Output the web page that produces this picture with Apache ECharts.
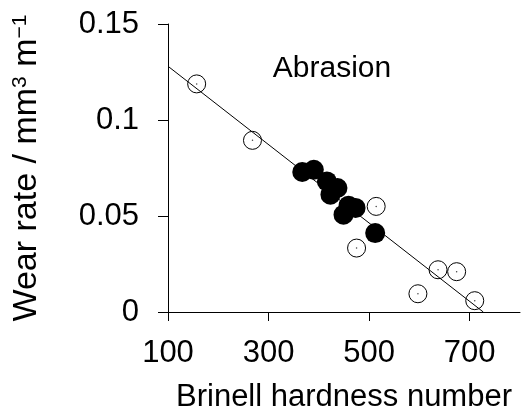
<!DOCTYPE html>
<html>
<head>
<meta charset="utf-8">
<script src="https://cdn.jsdelivr.net/npm/echarts@6/dist/echarts.min.js"></script>
<style>
  html, body { margin: 0; padding: 0; background: #fff; }
  #chart { width: 523px; height: 413px; }
</style>
</head>
<body>
<div id="chart"></div>
<script>
// open circles (other samples)
const openX = [157, 268, 514, 475, 637, 674, 597, 710];
const openY = [0.1188, 0.0894, 0.055, 0.0333, 0.022, 0.021, 0.0095, 0.0059];

// filled circles (cluster on the line)
const filledX = [367, 390, 416, 437, 423, 459, 473, 449, 512];
const filledY = [0.0729, 0.0741, 0.068, 0.0646, 0.0611, 0.0554, 0.0542, 0.0507, 0.0411];

// fitted line ends
const fitX = [100, 727];
const fitY = [0.128, 0];

const xTicks = [100, 300, 500, 700];
const yTicks = [0, 0.05, 0.1, 0.15];

const font = 'Liberation Sans';

function pairs(xs, ys) {
    return xs.map((x, i) => [x, ys[i]]);
}

const chart = echarts.init(document.getElementById('chart'));

const option = {
    animation: false,
    grid: { left: 168, right: 3, top: 24, bottom: 101, outerBoundsMode: 'none', containLabel: false },
    graphic: [
        {
            type: 'text',
            x: 332,
            y: 69,
            style: {
                text: 'Abrasion',
                font: '30px "Liberation Sans"',
                fill: '#000',
                textAlign: 'center',
                textVerticalAlign: 'middle',
            },
        },
    ],
    xAxis: {
        type: 'value',
        min: 100,
        max: 800,
        splitLine: { show: false },
        axisLine: { lineStyle: { color: '#000', width: 1 } },
        axisTick: { length: 9, customValues: xTicks, lineStyle: { color: '#000' } },
        axisLabel: {
            customValues: xTicks,
            margin: 26,
            fontFamily: font,
            fontSize: 31,
            color: '#000',
        },
        name: 'Brinell hardness number',
        nameLocation: 'middle',
        nameGap: 70,
        nameTextStyle: { fontFamily: font, fontSize: 31, color: '#000' },
    },
    yAxis: {
        type: 'value',
        min: 0,
        max: 0.15,
        splitLine: { show: false },
        axisLine: { show: true, lineStyle: { color: '#000', width: 1 } },
        axisTick: { show: true, length: 10, customValues: yTicks, lineStyle: { color: '#000' } },
        axisLabel: {
            customValues: yTicks,
            margin: 29,
            fontFamily: font,
            fontSize: 31,
            color: '#000',
        },
        name: '{n|Wear rate / mm}{s|3}{n| m}{s|\u22121}',
        nameLocation: 'middle',
        nameGap: 124,
        nameTextStyle: {
            fontFamily: font,
            color: '#000',
            rich: {
                n: { fontFamily: font, fontSize: 34, color: '#000', lineHeight: 34 },
                s: { fontFamily: font, fontSize: 21, color: '#000', verticalAlign: 'top', lineHeight: 34 },
            },
        },
    },
    series: [
        {
            name: 'fit',
            type: 'line',
            data: pairs(fitX, fitY),
            symbol: 'none',
            silent: true,
            lineStyle: { color: '#000', width: 1 },
            z: 1,
        },
        {
            name: 'open',
            type: 'scatter',
            data: pairs(openX, openY),
            symbol: 'circle',
            symbolSize: 18,
            itemStyle: { color: 'rgba(0,0,0,0)', borderColor: '#000', borderWidth: 1, opacity: 1 },
            z: 2,
        },
        {
            name: 'open centre',
            type: 'scatter',
            data: pairs(openX, openY),
            symbol: 'circle',
            symbolSize: 1.5,
            itemStyle: { color: '#444', opacity: 1 },
            z: 2,
        },
        {
            name: 'filled',
            type: 'scatter',
            data: pairs(filledX, filledY),
            symbol: 'circle',
            symbolSize: 20,
            itemStyle: { color: '#000', opacity: 1 },
            z: 3,
        },
    ],
};

chart.setOption(option);
</script>
</body>
</html>
